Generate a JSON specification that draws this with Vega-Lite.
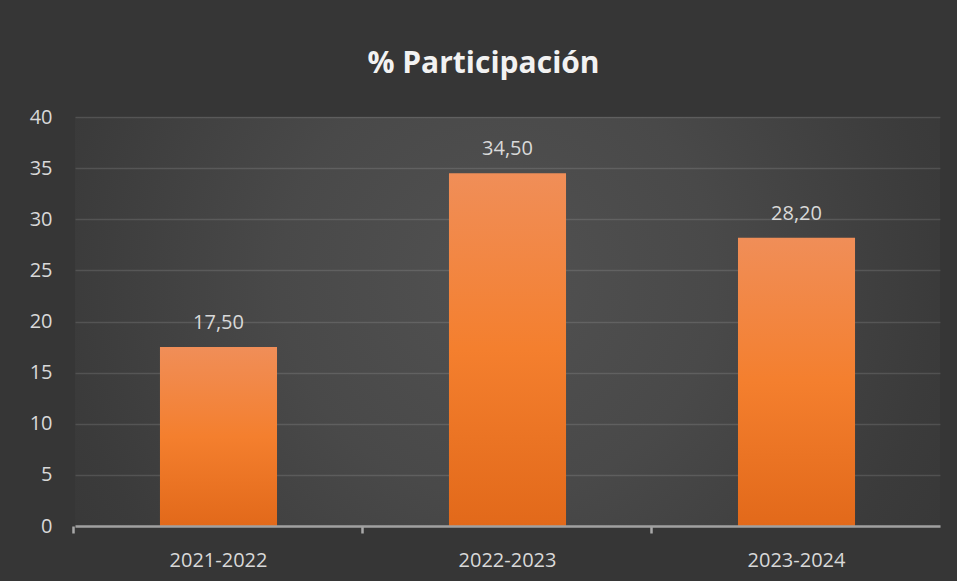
{
  "$schema": "https://vega.github.io/schema/vega-lite/v6.json",
  "autosize": {"type": "none"},
  "width": 865,
  "height": 409,
  "padding": {"left": 75, "top": 117, "right": 17, "bottom": 55},
  "background": "#363636",
  "config": {
    "locale": {"number": {"decimal": ",", "thousands": ".", "grouping": [3], "currency": ["", " €"]}},
    "view": {
      "stroke": null,
      "fill": {
        "gradient": "radial",
        "x1": 0.49, "y1": 0.45, "r1": 0,
        "x2": 0.49, "y2": 0.45, "r2": 0.72,
        "stops": [
          {"offset": 0, "color": "#515151"},
          {"offset": 0.35, "color": "#494949"},
          {"offset": 0.7, "color": "#3b3b3b"},
          {"offset": 1, "color": "#333333"}
        ]
      }
    }
  },
  "encoding": {
    "x": {
      "field": "periodo",
      "type": "nominal",
      "sort": null,
      "scale": {"paddingInner": 0.595, "paddingOuter": 0.294},
      "axis": {
        "title": null,
        "labelAngle": 0,
        "labelFont": "Open Sans",
        "labelFontSize": 20,
        "labelColor": "#d9d9d9",
        "labelBaseline": "alphabetic",
        "labelPadding": 33,
        "domainColor": "#a0a0a0",
        "domainWidth": 2.5,
        "tickColor": "#a8a8a8",
        "tickWidth": 2.5,
        "tickSize": 7,
        "bandPosition": -0.735,
        "grid": false,
        "zindex": 1
      }
    },
    "y": {
      "field": "valor",
      "type": "quantitative",
      "scale": {"domain": [0, 40], "nice": false},
      "axis": {
        "title": null,
        "values": [0, 5, 10, 15, 20, 25, 30, 35, 40],
        "domain": false,
        "ticks": false,
        "labelFont": "Open Sans",
        "labelFontSize": 20,
        "labelColor": "#d9d9d9",
        "labelPadding": 23,
        "gridColor": "#ffffff",
        "gridOpacity": 0.12,
        "gridWidth": 1.5
      }
    }
  },
  "layer": [
    {
      "data": {
        "values": [
          {"periodo": "2021-2022", "valor": 17.5},
          {"periodo": "2022-2023", "valor": 34.5},
          {"periodo": "2023-2024", "valor": 28.2}
        ]
      },
      "layer": [
        {
          "mark": {
            "type": "bar",
            "color": {
              "gradient": "linear",
              "x1": 0, "y1": 0, "x2": 0, "y2": 1,
              "stops": [
                {"offset": 0, "color": "#f08e58"},
                {"offset": 0.5, "color": "#f47f2e"},
                {"offset": 1, "color": "#e2691a"}
              ]
            }
          }
        },
        {
          "mark": {
            "type": "text",
            "font": "Open Sans",
            "fontSize": 20,
            "color": "#d9d9d9",
            "baseline": "alphabetic",
            "dy": -18
          },
          "encoding": {
            "text": {"field": "valor", "type": "quantitative", "format": ".2f"}
          }
        }
      ]
    },
    {
      "data": {"values": [{"periodo": "2022-2023", "valor": 40, "titulo": "% Participación"}]},
      "mark": {
        "type": "text",
        "font": "Open Sans",
        "fontSize": 30,
        "fontWeight": "bold",
        "color": "#f2f2f2",
        "letterSpacing": 6,
        "align": "center",
        "baseline": "alphabetic",
        "dx": -24,
        "dy": -44
      },
      "encoding": {
        "text": {"field": "titulo", "type": "nominal"}
      }
    }
  ]
}
